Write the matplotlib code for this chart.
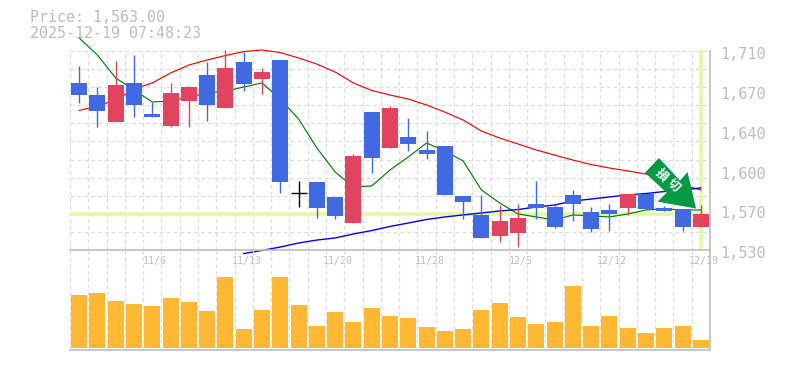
import numpy as np
import matplotlib
matplotlib.use("Agg")
import matplotlib.pyplot as plt
from matplotlib.patches import Polygon

open_ = [1681.1,1670.2,1645.8,1681.1,1653,1642.2,1664.8,1688.3,1658.4,1700,1684.7,1701.9,1581.6,1591.5,1577.9,1554.4,1654.8,1622.3,1632.2,1620.5,1624.1,1578.9,1561.7,1542.7,1545.4,1571.6,1568.9,1579.8,1564.4,1566.2,1568,1580.7,1568,1567.1,1550.8]
high = [1696.4,1677.4,1701,1706.4,1663.9,1681.1,1678.3,1700,1710.9,1709.1,1694.6,1701.9,1592.4,1591.5,1577.9,1616.8,1654.8,1660.3,1649.4,1637.6,1624.1,1578.9,1579.8,1570.7,1571.6,1592.4,1570.7,1584.3,1568.9,1571.6,1580.7,1580.7,1569.8,1567.1,1570.7]
low = [1663,1641.3,1645.8,1650.3,1650.3,1641.3,1641.3,1646.7,1658.4,1673.8,1671.1,1581.6,1568.9,1559,1558.1,1554.4,1599.7,1622.3,1619.6,1612.3,1579.8,1558.1,1540.9,1537.2,1532.7,1558.1,1549.9,1556.2,1546.3,1547.2,1561.7,1567.1,1565.3,1547.2,1550.8]
close = [1670.2,1655.7,1679.2,1661.2,1650.3,1672,1677.4,1661.2,1694.6,1680.2,1691,1591.5,1581.6,1568,1560.8,1615,1613.2,1658.4,1625.9,1616.8,1579.8,1573.4,1540.9,1556.2,1559,1568,1550.8,1571.6,1549,1562.6,1580.7,1567.1,1565.3,1550.8,1563]
ma_short = [1721.8,1706.4,1685.6,1674.7,1663.9,1664.8,1668.4,1672,1673.8,1677.4,1681.1,1666.6,1648.5,1622.3,1600.6,1587,1587.9,1602.4,1614.1,1626.8,1619.5,1610.5,1584.3,1572.5,1562.6,1559.9,1557.1,1561.7,1560.8,1559.9,1562.6,1566.2,1567.1,1566.2,1566.2]
ma_mid = [1656.2,1660.3,1665.7,1675.6,1681.1,1690.1,1697.3,1701.9,1705.9,1709.5,1710.9,1708.6,1703.7,1698.2,1691,1681.1,1674.3,1670.2,1666.6,1661.2,1654.8,1647.6,1637.6,1631.3,1625.9,1620.5,1615.9,1611.4,1607.3,1604.2,1601.5,1598.7,1594.2,1588.8,1584.3]
ma_long = [1526.8,1529.6,1532.7,1536.3,1539,1540.9,1544.5,1547.6,1551.3,1554.4,1557.6,1559.9,1561.7,1563.5,1565.3,1566.6,1568.9,1570.7,1574.3,1576.1,1578,1579.8,1581.1,1582.9,1584.3,1586.1]
ma_long_start = 9
volume = [53,55,47,44,42,50,46,37,71,19,38,71,43,22,36,26,40,32,30,21,17,19,38,45,31,24,26,62,22,32,20,15,20,22,8]
price_now = 1563
y_ticks = [1710,1674,1638,1602,1566,1530]
y_labels = ["1,710","1,670","1,640","1,600","1,570","1,530"]
x_tick_idx = [4,9,14,19,24,29,34]
x_tick_labels = ["11/6","11/13","11/20","11/28","12/5","12/12","12/19"]
title1 = "Price: 1,563.00"
title2 = "2025-12-19 07:48:23"
marker_chars = ["損", "切"]

W, H = 785, 370
GRAY = "#bdbdbd"; GRID = "#dcdcdc"; LIME = "#e6f5a8"
BLUE = "#4169e1"; RED = "#e2445f"; ORANGE = "#ffb833"; GREEN = "#009944"
MONO = "DejaVu Sans Mono"

fig = plt.figure(figsize=(W/100, H/100), dpi=100, facecolor="white")
def axes_px(x0, y0, x1, y1):
    return fig.add_axes([x0/W, 1-y1/H, (x1-x0)/W, (y1-y0)/H])

ax = axes_px(70, 51, 710, 250)
vx = axes_px(70, 250, 710, 350)
n = len(close)
xs = np.arange(n)
bw = 16/ (640/n)

for a in (ax, vx):
    a.set_xlim(-0.5, n-0.5)
    a.patch.set_alpha(0)
    for s in ("top", "left"):
        a.spines[s].set_visible(False)
    for s in ("right", "bottom"):
        a.spines[s].set_color(GRAY)
        a.spines[s].set_linewidth(1.2)
    a.set_axisbelow(True)
    a.set_xticks(np.arange(n+1)-0.5, minor=True)
    a.grid(True, which="minor", axis="x", color=GRID, ls=(0, (3, 2.5)), lw=0.9)
    a.tick_params(which="both", length=0)

ax.set_ylim(1530, 1710)
ax.set_yticks(np.linspace(1530, 1710, 12))
ax.set_yticklabels([])
ax.grid(True, which="major", axis="y", color=GRID, ls=(0, (3, 2.5)), lw=0.9)
ax.set_xticks(x_tick_idx)
ax.set_xticklabels([])
ax.grid(False, which="major", axis="x")

vx.set_ylim(-2, 98)
vx.set_yticks([])
vx.set_xticks([])
vx.bar(xs, volume, width=bw, color=ORANGE, zorder=3)

# reference lines
ax.axhline(price_now, color=LIME, lw=2.6, zorder=1.5)
ax.plot([n-1, n-1], [1530, 1711], color=LIME, lw=2.6, zorder=1.5, solid_capstyle="butt", clip_on=False)

# moving averages
ax.plot(xs, ma_mid, color="#ff0000", lw=0.85, zorder=2, clip_on=False)
ax.plot(xs, ma_short, color="#008000", lw=0.85, zorder=2, clip_on=False)
ax.plot(xs[ma_long_start:], ma_long, color="#0000ff", lw=1.0, zorder=2, clip_on=False)

# candles
for i in range(n):
    o, h, l, c = open_[i], high[i], low[i], close[i]
    col = RED if c > o else (BLUE if c < o else "black")
    ax.vlines(i, l, h, color=col, lw=1.0, zorder=3, clip_on=False)
    if c == o:
        ax.hlines(c, i-bw/2, i+bw/2, color=col, lw=1.0, zorder=3)
    else:
        ax.bar(i, abs(c-o), bottom=min(o, c), width=bw, color=col, zorder=3)

# labels
for v, s in zip(y_ticks, y_labels):
    ax.annotate(s, (1, v), xycoords=ax.get_yaxis_transform(), xytext=(7.2, -2.6),
                textcoords="offset points", ha="left", va="center",
                family=MONO, fontsize=11, color=GRAY)
for i, s in zip(x_tick_idx, x_tick_labels):
    ax.annotate(s, (i, 0), xycoords=ax.get_xaxis_transform(), xytext=(2, -8),
                textcoords="offset points", ha="center", va="center",
                family=MONO, fontsize=7.2, color=GRAY)
fig.text(30/W, 1-18/H, title1, family=MONO, fontsize=10.8, color=GRAY, ha="left", va="center")
fig.text(30/W, 1-33/H, title2, family=MONO, fontsize=10.8, color=GRAY, ha="left", va="center")

# marker arrow (figure pixel outline)
arrow_px = [(645,172.7),(659,158),(680,180.7),(687.5,172),(696,208.5),(657.7,201.7),(666.7,192.7)]
fig.add_artist(Polygon([(x/W, 1-y/H) for x, y in arrow_px], closed=True,
                       transform=fig.transFigure, facecolor=GREEN, edgecolor="none", zorder=10))
for ch, (px, py) in zip(marker_chars, [(661, 175), (673.5, 185.5)]):
    fig.text(px/W, 1-py/H, ch, family=["Noto Sans CJK JP", "DejaVu Sans"], fontweight="bold",
             fontsize=9, color="white", rotation=-45, rotation_mode="anchor",
             ha="center", va="center", zorder=11)

fig.savefig("out.png", dpi=100, facecolor="white")
